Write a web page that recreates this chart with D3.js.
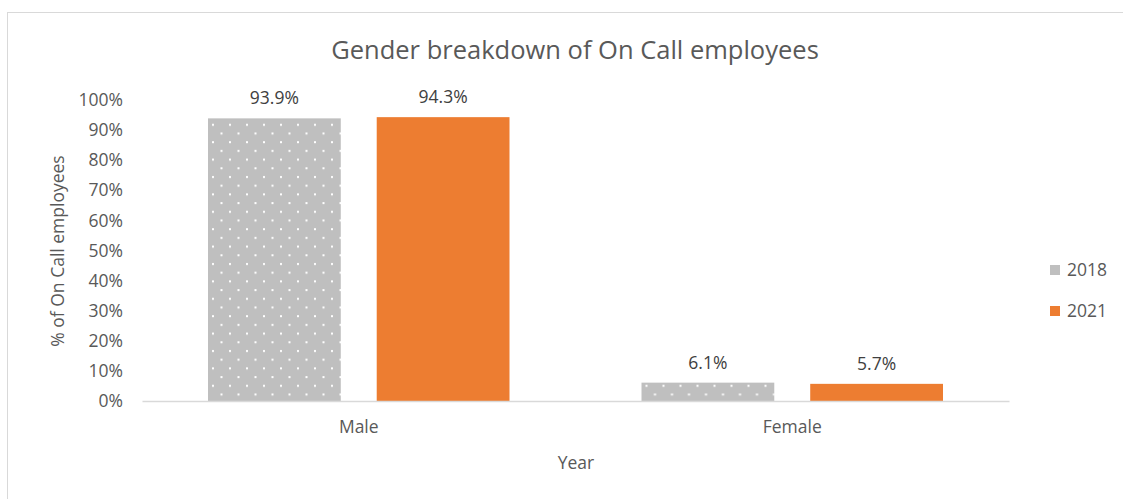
<!DOCTYPE html>
<html>
<head>
<meta charset="utf-8">
<script src="https://cdn.jsdelivr.net/npm/d3@7"></script>
<style>
  html, body { margin: 0; padding: 0; background: #fff; }
  svg { display: block; font-family: "Open Sans", sans-serif; }
</style>
</head>
<body>
<div id="chart"></div>
<script>
// Share of On Call employees by gender, per survey year (percent)
const categories = ["Male", "Female"];
const seriesNames = ["2018", "2021"];
const values2018 = [93.9, 6.1];
const values2021 = [94.3, 5.7];
const yTicks = [0, 10, 20, 30, 40, 50, 60, 70, 80, 90, 100];

const W = 1123, H = 499;
const plot = { left: 142, right: 1009, top: 100, bottom: 401 };
const textColor = "#595959";
const fs = 17.5;

const svg = d3.select("#chart").append("svg")
  .attr("width", W).attr("height", H);

// Dotted fill for the 2018 series
const defs = svg.append("defs");
const pat = defs.append("pattern")
  .attr("id", "dots")
  .attr("patternUnits", "userSpaceOnUse")
  .attr("width", 17).attr("height", 17.4);
pat.append("rect").attr("width", 17).attr("height", 17.4).attr("fill", "#bfbfbf");
pat.append("rect").attr("x", 2).attr("y", 2).attr("width", 2).attr("height", 2).attr("fill", "#fff");
pat.append("rect").attr("x", 10.5).attr("y", 10.7).attr("width", 2).attr("height", 2).attr("fill", "#fff");

const fills = { "2018": "url(#dots)", "2021": "#ed7d31" };
const legendFills = { "2018": "#bfbfbf", "2021": "#ed7d31" };

// Chart frame
svg.append("rect")
  .attr("x", 7.5).attr("y", 12.5)
  .attr("width", W + 10).attr("height", H + 10)
  .attr("fill", "none").attr("stroke", "#d9d9d9").attr("stroke-width", 1);

const x0 = d3.scaleBand().domain(categories)
  .range([plot.left, plot.right]).paddingInner(0).paddingOuter(0);
const x1 = d3.scaleBand().domain(seriesNames)
  .range([66, x0.bandwidth() - 66]).paddingInner(36 / 169).paddingOuter(0);
const y = d3.scaleLinear().domain([0, 100]).range([plot.bottom, plot.top]);

const rows = categories.map((c, i) => ({
  cat: c,
  vals: [
    { key: "2018", v: values2018[i] },
    { key: "2021", v: values2021[i] }
  ]
}));

const groups = svg.append("g").selectAll("g").data(rows).join("g")
  .attr("transform", d => `translate(${x0(d.cat)},0)`);

groups.selectAll("rect").data(d => d.vals).join("rect")
  .attr("x", d => x1(d.key))
  .attr("width", x1.bandwidth())
  .attr("y", d => y(d.v))
  .attr("height", d => y(0) - y(d.v))
  .attr("fill", d => fills[d.key]);

groups.selectAll("text").data(d => d.vals).join("text")
  .attr("x", d => x1(d.key) + x1.bandwidth() / 2)
  .attr("y", d => y(d.v) - 14)
  .attr("text-anchor", "middle")
  .attr("font-size", fs)
  .attr("fill", "#404040")
  .text(d => d.v.toFixed(1) + "%");

// Y axis (labels only)
const yAxis = d3.axisLeft(y).tickValues(yTicks).tickSize(0).tickPadding(0)
  .tickFormat(d => d + "%");
const yg = svg.append("g").attr("transform", `translate(123,0)`).call(yAxis);
yg.select(".domain").remove();
yg.selectAll("text").attr("font-size", fs).attr("fill", textColor)
  .attr("font-family", "Open Sans, sans-serif");

// X axis
const xAxis = d3.axisBottom(x0).tickSize(0).tickPadding(20);
const xg = svg.append("g").attr("transform", `translate(0,${plot.bottom})`).call(xAxis);
xg.select(".domain").attr("stroke", "#d9d9d9").attr("stroke-width", 1.5);
xg.selectAll("text").attr("font-size", fs).attr("fill", textColor)
  .attr("font-family", "Open Sans, sans-serif");

// Titles
svg.append("text")
  .attr("x", 575).attr("y", 59)
  .attr("text-anchor", "middle")
  .attr("font-size", 25.5).attr("fill", textColor)
  .text("Gender breakdown of On Call employees");

svg.append("text")
  .attr("x", 576).attr("y", 469)
  .attr("text-anchor", "middle")
  .attr("font-size", fs).attr("fill", textColor)
  .text("Year");

svg.append("text")
  .attr("transform", "translate(64,251) rotate(-90)")
  .attr("text-anchor", "middle")
  .attr("font-size", fs).attr("fill", textColor)
  .text("% of On Call employees");

// Legend
const lg = svg.append("g").selectAll("g").data(seriesNames).join("g")
  .attr("transform", (d, i) => `translate(1050,${265 + i * 41})`);
lg.append("rect").attr("width", 10).attr("height", 10)
  .attr("fill", d => legendFills[d]);
lg.append("text").attr("x", 17).attr("y", 5).attr("dy", "0.35em")
  .attr("font-size", fs).attr("fill", textColor)
  .text(d => d);
</script>
</body>
</html>
